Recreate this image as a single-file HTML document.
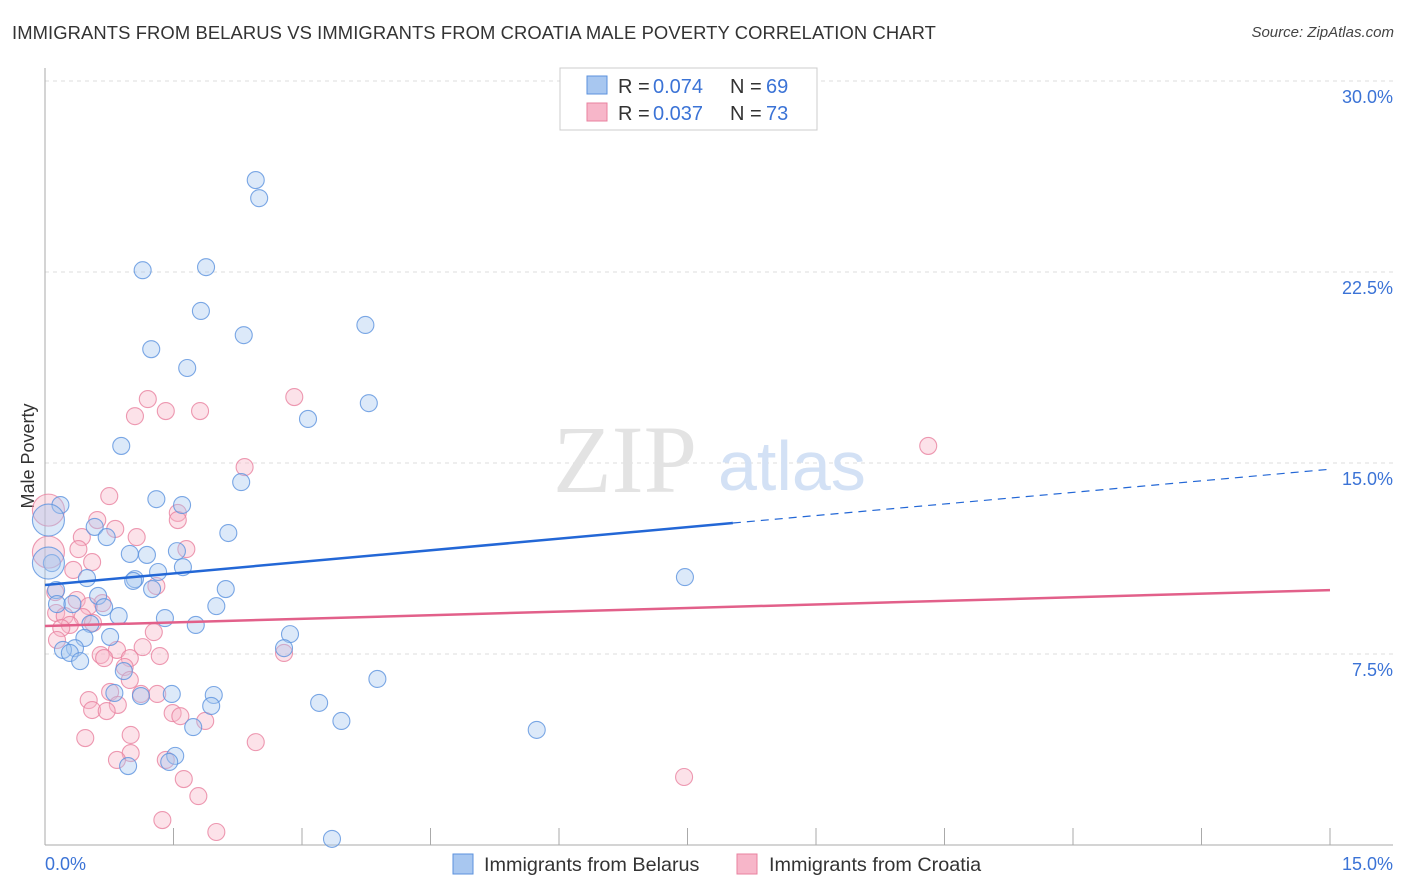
<!DOCTYPE html>
<html><head><meta charset="utf-8">
<style>
body{margin:0;background:#fff;font-family:"Liberation Sans",sans-serif;}
#wrap{position:relative;width:1406px;height:892px;overflow:hidden;}
.title{position:absolute;left:12px;top:22px;font-size:18.4px;color:#333;letter-spacing:0.1px;white-space:nowrap}
.source{position:absolute;right:12px;top:24px;font-size:15px;color:#444;font-style:italic}
</style></head><body>
<div id="wrap">
<div class="title">IMMIGRANTS FROM BELARUS VS IMMIGRANTS FROM CROATIA MALE POVERTY CORRELATION CHART</div>
<div class="source">Source: ZipAtlas.com</div>
<svg id="chart" width="1406" height="892" style="position:absolute;left:0;top:0"></svg>
</div>
<script>
const blueX=[2.46,2.50,1.14,1.88,1.82,3.74,2.32,1.24,1.66,3.78,3.07,0.89,2.29,1.30,1.60,0.18,2.14,0.58,0.72,0.99,1.19,1.54,0.08,1.61,1.32,1.05,0.49,1.03,1.25,2.11,7.47,0.13,0.62,0.14,0.32,2.00,0.69,0.86,1.40,1.76,0.53,0.46,0.76,2.86,0.35,0.21,0.29,2.79,0.41,0.92,3.88,0.81,1.48,1.97,1.12,1.94,3.20,3.46,1.73,5.74,1.52,1.45,0.97,3.35,0.04,0.04];
const blueY=[26.11,25.40,22.57,22.69,20.97,20.42,20.02,19.47,18.73,17.35,16.73,15.67,14.25,13.58,13.35,13.35,12.25,12.49,12.09,11.43,11.39,11.54,11.07,10.91,10.72,10.44,10.48,10.37,10.05,10.05,10.52,10.01,9.78,9.46,9.46,9.38,9.34,8.99,8.91,8.64,8.68,8.13,8.17,8.28,7.73,7.66,7.54,7.73,7.22,6.83,6.52,5.97,5.93,5.89,5.85,5.46,5.58,4.87,4.63,4.52,3.50,3.26,3.10,0.24,12.76,11.07];
const blueBig=[64,65];
const pinkX=[0.75,2.91,1.20,1.41,1.81,1.05,2.33,1.55,1.55,0.61,0.82,1.07,0.43,0.39,1.65,0.04,0.55,0.33,1.30,0.12,0.37,0.67,0.51,0.13,0.23,0.44,0.29,0.19,1.27,0.56,0.14,1.14,0.84,0.65,0.69,0.99,1.34,2.79,0.93,0.99,0.51,0.76,1.12,1.31,0.85,0.55,0.72,1.49,1.58,1.87,1.00,0.47,1.00,0.84,1.41,2.46,1.62,1.79,1.37,2.00,7.46,10.31,0.04];
const pinkY=[13.70,17.59,17.51,17.04,17.04,16.84,14.84,13.04,12.76,12.76,12.41,12.09,12.09,11.62,11.62,11.50,11.11,10.80,10.17,9.93,9.62,9.50,9.38,9.11,8.99,8.95,8.64,8.52,8.36,8.72,8.05,7.77,7.66,7.46,7.34,7.34,7.42,7.54,6.99,6.48,5.69,6.01,5.93,5.93,5.50,5.30,5.26,5.18,5.06,4.87,4.32,4.20,3.61,3.34,3.34,4.04,2.59,1.92,0.98,0.51,2.67,15.67,13.15];
const pinkBig=[15,62];
const blueLine=[10.21,0.303];
const blueSolidEnd=8.03;
const pinkLine=[8.60,0.094];
const yTicks=[7.5,15,22.5,30];
const yTickLabels=["7.5%","15.0%","22.5%","30.0%"];
const xTicks=[0,1.5,3,4.5,6,7.5,9,10.5,12,13.5,15];

const NS="http://www.w3.org/2000/svg";
const svg=document.getElementById('chart');
const X0=45,X1=1330,Y0=845,YT=81;
const sx=v=>X0+v/15*(X1-X0);
const sy=v=>Y0-v/30*(Y0-YT);
function el(tag,attrs,parent){const e=document.createElementNS(NS,tag);for(const k in attrs)e.setAttribute(k,attrs[k]);(parent||svg).appendChild(e);return e;}

yTicks.forEach((t,i)=>{
 const g=el('line',{x1:X0,x2:1393,y1:sy(t),y2:sy(t),stroke:'#ddd','stroke-dasharray':'4,4','stroke-width':1});
 
 
 const tx=el('text',{x:1393,y:sy(t)+22,'text-anchor':'end','font-size':18,fill:'#3b73d6','font-family':'Liberation Sans'});
 tx.textContent=yTickLabels[i];
 
 
});
const ax=el('line',{x1:X0,x2:X0,y1:68,y2:Y0,stroke:'#aaa'});


const bx=el('line',{x1:X0,x2:1393,y1:Y0,y2:Y0,stroke:'#aaa'});


xTicks.forEach(t=>{
 const l=el('line',{x1:sx(t),x2:sx(t),y1:Y0,y2:Y0-17,stroke:'#aaa'});
 
 
});
const xl0=el('text',{x:45,y:870,'font-size':18,fill:'#3b73d6'});xl0.textContent='0.0%';


const xl1=el('text',{x:1393,y:870,'font-size':18,fill:'#3b73d6','text-anchor':'end'});xl1.textContent='15.0%';


const yt=el('text',{x:34,y:456,'font-size':18,fill:'#333','text-anchor':'middle',transform:'rotate(-90 34 456)'});yt.textContent='Male Poverty';


const wm=el('text',{x:553,y:492,'font-size':96,fill:'#e3e3e3','font-family':'Liberation Serif'});wm.textContent='ZIP';


const wm2=el('text',{x:718,y:490,'font-size':70,fill:'#d3e1f5'});wm2.textContent='atlas';



function pts(xs,ys,big,fill,stroke,name){
 xs.forEach((x,i)=>{
  const r=big.includes(i)?16:8.5;
  const c=el('circle',{cx:sx(x),cy:sy(ys[i]),r:r,fill:fill,'fill-opacity':0.4,stroke:stroke,'stroke-width':1.1,'stroke-opacity':0.8});
  
  
 });
}
pts(pinkX,pinkY,pinkBig,'#f7b6c9','#e8819f','croatia-point');
pts(blueX,blueY,blueBig,'#a8c7f0','#5b92de','belarus-point');

const b1=el('line',{x1:sx(0),y1:sy(blueLine[0]),x2:sx(blueSolidEnd),y2:sy(blueLine[0]+blueLine[1]*blueSolidEnd),stroke:'#2367d6','stroke-width':2.5});


const b2=el('line',{x1:sx(blueSolidEnd),y1:sy(blueLine[0]+blueLine[1]*blueSolidEnd),x2:sx(15),y2:sy(blueLine[0]+blueLine[1]*15),stroke:'#2367d6','stroke-width':1.2,'stroke-dasharray':'8,6'});


const p1=el('line',{x1:sx(0),y1:sy(pinkLine[0]),x2:sx(15),y2:sy(pinkLine[0]+pinkLine[1]*15),stroke:'#e2608a','stroke-width':2.5});



const lg=el('g',{});


el('rect',{x:560,y:68,width:257,height:62,fill:'#fff',stroke:'#ccc'},lg);
el('rect',{x:587,y:76,width:20,height:18,fill:'#a8c7f0',stroke:'#5b92de'},lg);
el('rect',{x:587,y:103,width:20,height:18,fill:'#f7b6c9',stroke:'#e8819f'},lg);
function lt(x,y,s,c,parent){const t=el('text',{x:x,y:y,'font-size':20,fill:c},parent);t.textContent=s;return t;}
lt(618,93,'R =','#333',lg);lt(653,93,'0.074','#3b73d6',lg);lt(730,93,'N =','#333',lg);lt(766,93,'69','#3b73d6',lg);
lt(618,120,'R =','#333',lg);lt(653,120,'0.037','#3b73d6',lg);lt(730,120,'N =','#333',lg);lt(766,120,'73','#3b73d6',lg);

const bl=el('g',{});


el('rect',{x:453,y:854,width:20,height:20,fill:'#a8c7f0',stroke:'#5b92de'},bl);
lt(484,871,'Immigrants from Belarus','#333',bl).setAttribute('font-size',19.8);
el('rect',{x:737,y:854,width:20,height:20,fill:'#f7b6c9',stroke:'#e8819f'},bl);
lt(769,871,'Immigrants from Croatia','#333',bl).setAttribute('font-size',19.8);
</script>
</body></html>
